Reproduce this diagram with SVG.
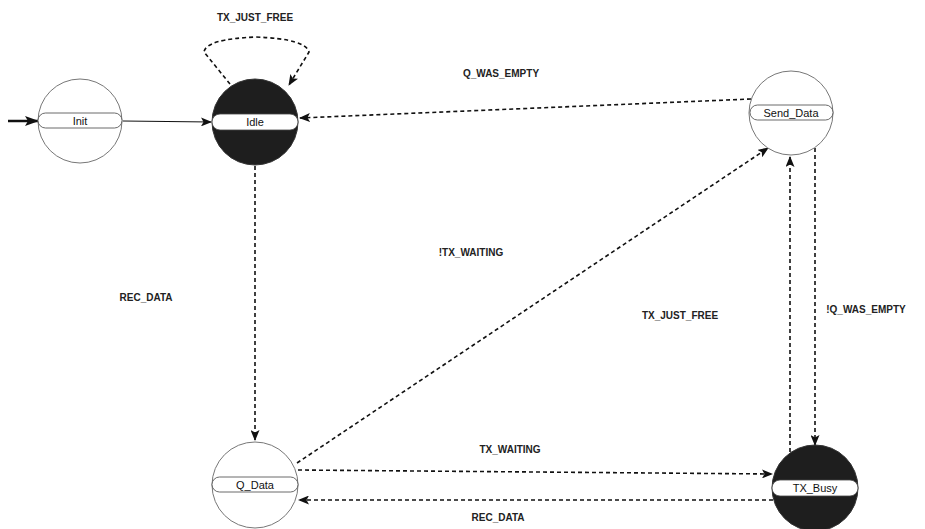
<svg xmlns="http://www.w3.org/2000/svg" width="925" height="529" viewBox="0 0 925 529">
<style>
.st{stroke:#777;stroke-width:1;fill:#fff}
.dk{stroke:#333;stroke-width:1;fill:#1e1e1e}
.bar{fill:#fff;stroke:#444;stroke-width:0.8}
.nt{font-family:"Liberation Sans",Arial,sans-serif;font-size:11px;fill:#111;text-anchor:middle}
.lb{font-family:"Liberation Sans",Arial,sans-serif;font-size:10px;font-weight:bold;fill:#222;text-anchor:middle}
.dash{fill:none;stroke:#111;stroke-width:1.6;stroke-dasharray:4,3}
.sol{fill:none;stroke:#111;stroke-width:1.2}
</style>
<defs>
<marker id="ah" markerWidth="11" markerHeight="9" refX="10" refY="4.5" orient="auto" markerUnits="userSpaceOnUse">
<path d="M0,0 L11,4.5 L0,9 L2.5,4.5 Z" fill="#111"/>
</marker>
<marker id="ahb" markerWidth="14" markerHeight="10" refX="13" refY="5" orient="auto" markerUnits="userSpaceOnUse">
<path d="M0,0 L14,5 L0,10 L3,5 Z" fill="#111"/>
</marker>
</defs>
<rect width="925" height="529" fill="#fff"/>
<g id="connectors">
<line x1="8" y1="121" x2="38" y2="121" stroke="#111" stroke-width="2.5" marker-end="url(#ahb)"/>
<line class="sol" x1="123" y1="121" x2="211" y2="122" marker-end="url(#ah)"/>
<path class="dash" d="M230,84 L204,52 Q206,39 256,37 Q306,39 309,52 L289,85" marker-end="url(#ah)"/>
<line class="dash" x1="751" y1="99" x2="300" y2="118" marker-end="url(#ah)"/>
<line class="dash" x1="255" y1="166" x2="255" y2="440" marker-end="url(#ah)"/>
<line class="dash" x1="297" y1="463" x2="768" y2="148" marker-end="url(#ah)"/>
<line class="dash" x1="298" y1="470" x2="772" y2="474" marker-end="url(#ah)"/>
<line class="dash" x1="773" y1="500" x2="299" y2="500" marker-end="url(#ah)"/>
<line class="dash" x1="790" y1="452" x2="790" y2="157" marker-end="url(#ah)"/>
<line class="dash" x1="815" y1="148" x2="815" y2="445" marker-end="url(#ah)"/>
<text class="lb" x="255" y="21">TX_JUST_FREE</text>
<text class="lb" x="501" y="77">Q_WAS_EMPTY</text>
<text class="lb" x="146" y="301">REC_DATA</text>
<text class="lb" x="471" y="256">!TX_WAITING</text>
<text class="lb" x="680" y="319">TX_JUST_FREE</text>
<text class="lb" x="866" y="313">!Q_WAS_EMPTY</text>
<text class="lb" x="510" y="453">TX_WAITING</text>
<text class="lb" x="498" y="521">REC_DATA</text>
</g>
<g id="init">
<circle class="st" cx="80" cy="121" r="42"/>
<rect class="bar" x="38" y="113" width="84" height="15" rx="7.5"/>
<text class="nt" x="80" y="125">Init</text>
</g>
<g id="idle">
<circle class="dk" cx="255" cy="122" r="43"/>
<rect class="bar" x="212" y="114" width="86" height="16" rx="8"/>
<text class="nt" x="255" y="126">Idle</text>
</g>
<g id="send_data">
<circle class="st" cx="791" cy="113" r="42"/>
<rect class="bar" x="750" y="105" width="83" height="15" rx="7.5"/>
<text class="nt" x="791" y="117">Send_Data</text>
</g>
<g id="q_data">
<circle class="st" cx="255" cy="485" r="43"/>
<rect class="bar" x="212" y="477" width="86" height="15" rx="7.5"/>
<text class="nt" x="255" y="489">Q_Data</text>
</g>
<g id="tx_busy">
<circle class="dk" cx="815" cy="488" r="43"/>
<rect class="bar" x="772" y="480" width="86" height="16" rx="8"/>
<text class="nt" x="815" y="492">TX_Busy</text>
</g>
</svg>
